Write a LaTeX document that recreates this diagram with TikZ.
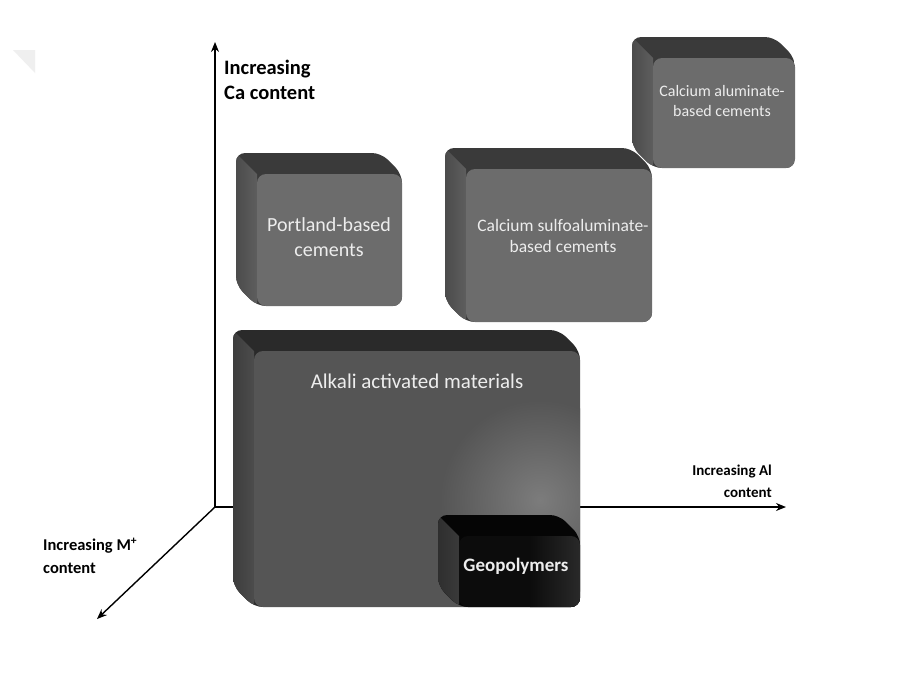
\documentclass[tikz,border=0pt]{standalone}
\usepackage{fontspec}
\setmainfont{Carlito}
\usetikzlibrary{arrows.meta}
\definecolor{topA}{HTML}{3A3A3A}
\definecolor{leftA}{HTML}{5E5E5E}
\definecolor{frontA}{HTML}{6C6C6C}
\definecolor{topB}{HTML}{2A2A2A}
\definecolor{leftB}{HTML}{4C4C4C}
\definecolor{frontB}{HTML}{555555}
\definecolor{glowB}{HTML}{7C7C7C}
\definecolor{topC}{HTML}{050505}
\definecolor{leftC}{HTML}{3A3A3A}
\definecolor{frontC}{HTML}{0C0C0C}
\definecolor{txt}{HTML}{EDEDED}
\definecolor{ghost}{HTML}{EFEFEF}
% #1 x1, #2 y1, #3 x2, #4 y2, #5 bevel, #6 top, #7 left, #8 front
\newcommand\cubox[8]{%
  \begin{scope}
    \path[clip,rounded corners=9] (#1,#2) -- (#3-#5,#2) -- (#3,#2+#5) -- (#3,#4) -- (#1+#5,#4) -- (#1,#4-#5) -- cycle;
    \fill[#6] (#1,#2) rectangle (#3,#4);
    \shade[left color=#7!80!black, right color=#7] (#1,#2) -- (#1+#5,#2+#5) -- (#1+#5,#4) -- (#1,#4) -- cycle;
  \end{scope}
  \fill[#8, rounded corners=9] (#1+#5,#2+#5) rectangle (#3,#4);
}
\tikzset{
  axis/.style={line width=1.4pt, -{Stealth[length=10pt,width=8pt]}},
  axlab/.style={font=\bfseries, text=black, inner sep=0pt},
  boxtxt/.style={text=txt, align=center, inner sep=0pt}
}
\begin{document}
\begin{tikzpicture}[x=1pt,y=-1pt]
\useasboundingbox (0,0) rectangle (899,678);
\fill[white] (0,0) rectangle (899,678);
% faint corner mark
\fill[ghost] (13,50) -- (35,50) -- (35,73) -- cycle;
% axes
\coordinate (O) at (215,507);
\coordinate (ytip) at (215,42);
\coordinate (xtip) at (786,507);
\coordinate (ztip) at (97,619);
\draw[axis] (O) -- (ytip);
\draw[axis] (O) -- (xtip);
\draw[axis] (O) -- (ztip);
% boxes
\cubox{236}{153}{402}{306}{21}{topA}{leftA}{frontA}
\cubox{445}{148}{652}{322}{21}{topA}{leftA}{frontA}
\cubox{632}{37}{795}{168}{21}{topA}{leftA}{frontA}
\cubox{233}{330}{580}{607}{21}{topB}{leftB}{frontB}
\begin{scope}
  \clip[rounded corners=9] (254,351) rectangle (580,607);
  \shade[inner color=glowB, outer color=frontB] (540,500) circle (100);
\end{scope}
\cubox{438}{515}{580}{607}{21}{topC}{leftC}{frontC}
\begin{scope}
  \clip[rounded corners=9] (459,536) rectangle (580,607);
  \shade[left color=frontC, right color=frontC!88!white] (530,536) rectangle (580,607);
\end{scope}
% texts
\node[boxtxt, font=\fontsize{20}{25}\selectfont] (pc) at (329,237) {Portland-based\\cements};
\node[boxtxt, font=\fontsize{17.5}{21}\selectfont] (csa) at (563,236) {Calcium sulfoaluminate-\\based cements};
\node[boxtxt, font=\fontsize{16}{20}\selectfont] (cac) at (722,101) {Calcium aluminate-\\based cements};
\node[boxtxt, font=\fontsize{21}{25}\selectfont] (aam) at (417,381) {Alkali activated materials};
\node[boxtxt, font=\fontsize{19}{22}\selectfont\bfseries] (geo) at (516,566) {Geopolymers};
% axis labels
\node[axlab, font=\fontsize{20.5}{24.5}\selectfont\bfseries, align=left, anchor=north west] (calab) at (224,60) {Increasing\\Ca content};
\node[axlab, font=\fontsize{15}{22}\selectfont\bfseries, align=right, anchor=north east] (allab) at (772,465) {Increasing Al\\content};
\node[axlab, font=\fontsize{16.5}{23}\selectfont\bfseries, align=left, anchor=north west] (mlab) at (43,538) {Increasing M\textsuperscript{+}\\content};
\end{tikzpicture}
\end{document}
